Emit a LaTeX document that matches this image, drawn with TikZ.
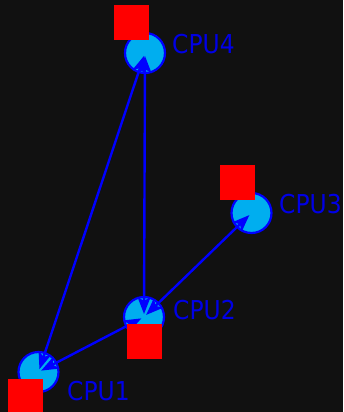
\documentclass[tikz,border=0pt]{standalone}
\usepackage{fontspec}
\setmainfont{DejaVu Sans}[FakeStretch=0.9]
\usetikzlibrary{arrows.meta}
\definecolor{bg}{HTML}{111111}
\definecolor{nodefill}{HTML}{00AEEF}
\definecolor{edgeblue}{HTML}{0000FF}
\definecolor{labelblue}{HTML}{0000E6}
\definecolor{marker}{HTML}{FF0000}
\tikzset{
  tip/.tip={Stealth[length=17pt,width=13pt,inset=4pt]},
  cpu/.style={circle, draw=edgeblue, line width=2.2pt, fill=nodefill, minimum size=40pt, inner sep=0pt},
  link/.style={edgeblue, line width=2.4pt, tip-tip, shorten <=3pt, shorten >=3pt},
  flag/.style={fill=marker, minimum size=35pt, inner sep=0pt, anchor=north west},
  cpulabel/.style={text=labelblue, font=\fontsize{26}{26}\selectfont, inner sep=0pt, anchor=west}
}
\begin{document}
\begin{tikzpicture}[x=1pt, y=-1pt]
  \fill[bg] (0,0) rectangle (343,412);
  \useasboundingbox (0,0) rectangle (343,412);

  % processors
  \node[cpu] (c1) at (38.5,372) {};
  \node[cpu] (c2) at (144,317) {};
  \node[cpu] (c3) at (251.5,213) {};
  \node[cpu] (c4) at (145,53) {};

  % links between processors
  \draw[link] (c1.center) -- (c4.center);
  \draw[link] (c1.center) -- (c2.center);
  \draw[link] (c2.center) -- (c4.center);
  \draw[link] (c2.center) -- (c3.center);

  % markers
  \node[flag] (f4) at (114,5) {};
  \node[flag] (f3) at (220,165) {};
  \node[flag] (f2) at (127,324) {};
  \node[flag] (f1) at (8,379) {};

  % labels
  \node[cpulabel] (l4) at (172,44) {CPU4};
  \node[cpulabel] (l3) at (279,204) {CPU3};
  \node[cpulabel] (l2) at (173,310) {CPU2};
  \node[cpulabel] (l1) at (67,391) {CPU1};
\end{tikzpicture}
\end{document}
